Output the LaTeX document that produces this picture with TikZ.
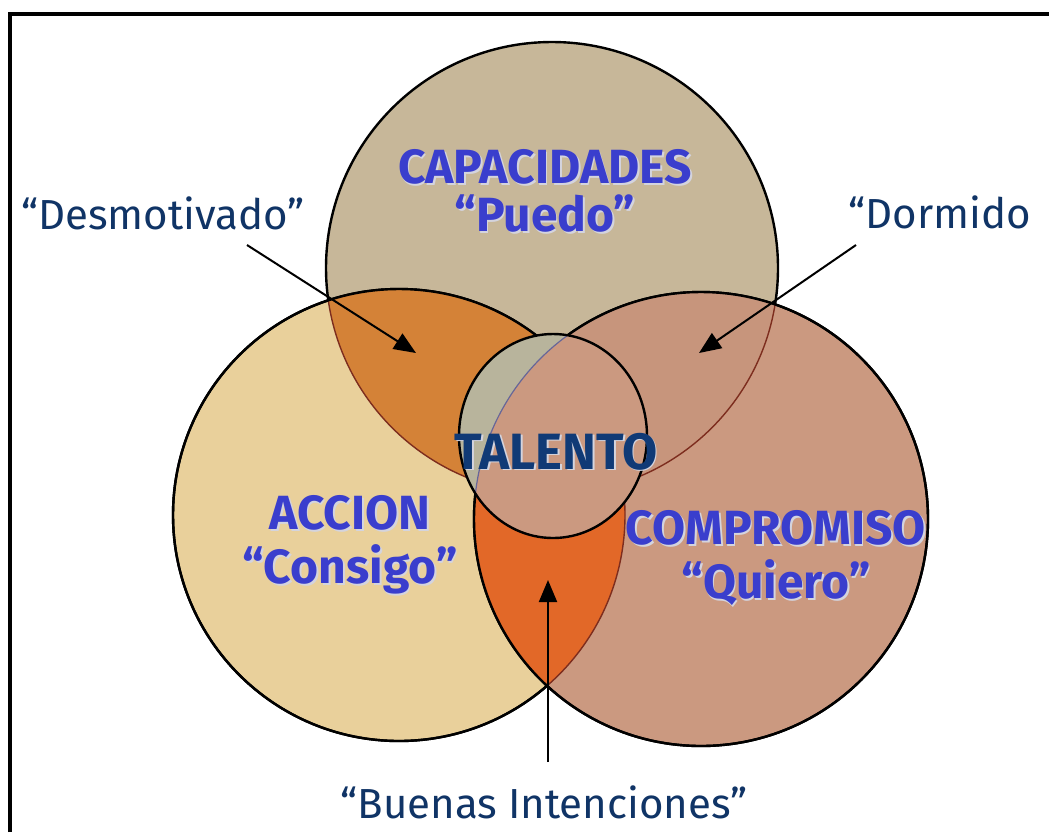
\documentclass[tikz,border=0pt]{standalone}
\usepackage{fontspec}
\setmainfont{Fira Sans}
\usetikzlibrary{arrows.meta}
\definecolor{capfill}{RGB}{199,183,153}
\definecolor{accfill}{RGB}{233,208,155}
\definecolor{comfill}{RGB}{203,153,128}
\definecolor{capacc}{RGB}{212,130,55}
\definecolor{capcom}{RGB}{199,149,124}
\definecolor{acccom}{RGB}{226,104,40}
\definecolor{talgrey}{RGB}{184,180,156}
\definecolor{seam}{RGB}{125,45,30}
\definecolor{titleblue}{RGB}{58,62,205}
\definecolor{remarkblue}{RGB}{16,52,102}
\definecolor{talblue}{RGB}{16,58,118}
\definecolor{halo}{RGB}{212,212,222}
\tikzstyle{ring}=[draw=black, line width=1.2pt]
\tikzstyle{seamline}=[draw=seam, line width=0.7pt]
\tikzstyle{title}=[text=titleblue, font=\bfseries\fontsize{24}{27}\selectfont, align=center]
\tikzstyle{remark}=[text=remarkblue, font=\fontsize{21}{24}\selectfont, anchor=base]
\tikzstyle{pointer}=[-{Triangle[length=11pt,width=9pt]}, line width=1pt]
\newcommand{\halotext}[1]{{\color{halo}\rlap{\kern0.8pt\raisebox{-0.8pt}{#1}}}#1}

\begin{document}
\begin{tikzpicture}[x=0.5pt, y=-0.5pt]
            \useasboundingbox (0,0) rectangle (1049,832);
            % frame
            \draw[line width=1.6pt] (10,832) -- (10,14) -- (1049,14);
            \coordinate (cap) at (552,268);
            \coordinate (acc) at (399,515);
            \coordinate (com) at (701,519);
            \coordinate (tal) at (553,436);
            % capacidades
            \filldraw[ring, fill=capfill] (cap) circle (226);
            % accion
            \filldraw[ring, fill=accfill] (acc) circle (226);
            \begin{scope}
                \clip (acc) circle (226);
                \fill[capacc] (cap) circle (226);
                \draw[seamline] (cap) circle (226);
            \end{scope}
            \draw[ring] (acc) circle (226);
            % compromiso
            \filldraw[ring, fill=comfill] (com) circle (227);
            \begin{scope}
                \clip (com) circle (227);
                \fill[capcom] (cap) circle (226);
                \fill[acccom] (acc) circle (226);
                \draw[seamline] (cap) circle (226);
                \draw[seamline] (acc) circle (226);
            \end{scope}
            \draw[ring] (com) circle (227);
            % talento
            \fill[talgrey] (tal) ellipse [x radius=94, y radius=102];
            \begin{scope}
                \clip (tal) ellipse [x radius=94, y radius=102];
                \fill[comfill] (com) circle (227);
                \draw[line width=0.6pt, gray!80!blue] (com) circle (227);
            \end{scope}
            \draw[ring] (tal) ellipse [x radius=94, y radius=102];
            % labels
            \node[title] (capl) at (545,192) {\halotext{CAPACIDADES}\\[-3pt]\halotext{“Puedo”}};
            \node[title] (accl) at (350,546) {\halotext{ACCION}\\\halotext{“Consigo”}};
            \node[title] (coml) at (776,559) {\halotext{COMPROMISO}\\\halotext{“Quiero”}};
            \node[title, text=talblue, anchor=base, font=\bfseries\fontsize{25.5}{28}\selectfont] (tall) at (556,469) {\halotext{TALENTO}};
            \node[remark] (desm) at (163,229) {“Desmotivado”};
            \node[remark] (dorm) at (940,228) {“Dormido};
            \node[remark] (buen) at (544,818) {“Buenas Intenciones”};
            % pointers
            \coordinate (desmtail) at (247,245);
            \coordinate (desmtip) at (416,353);
            \coordinate (dormtail) at (856,245);
            \coordinate (dormtip) at (699,353);
            \coordinate (buentail) at (548,762);
            \coordinate (buentip) at (548,580);
            \draw[pointer] (desmtail) -- (desmtip);
            \draw[pointer] (dormtail) -- (dormtip);
            \draw[pointer] (buentail) -- (buentip);
        \end{tikzpicture}
\end{document}
